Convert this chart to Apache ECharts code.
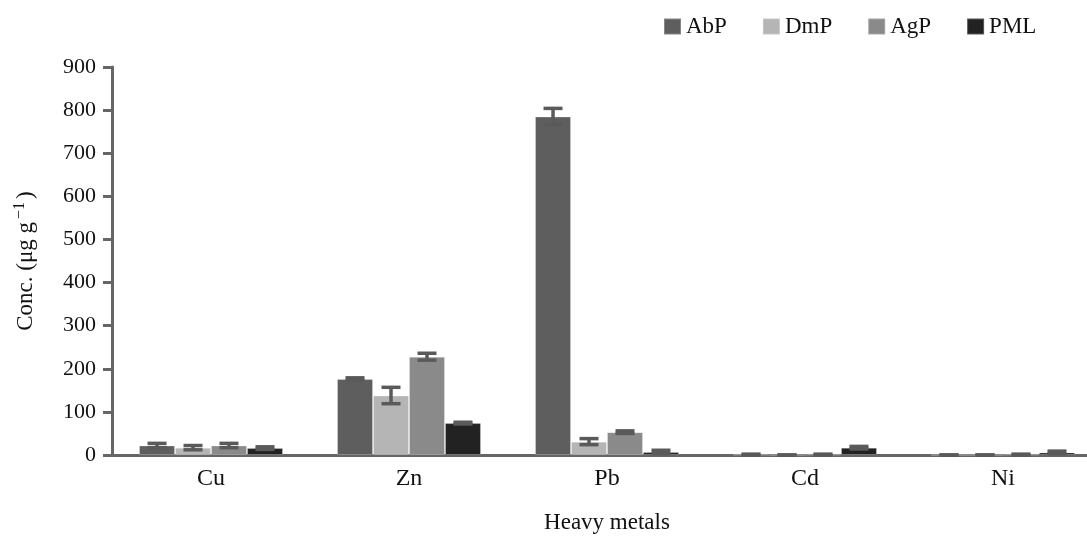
<!DOCTYPE html>
<html>
<head>
<meta charset="utf-8">
<script src="https://cdn.jsdelivr.net/npm/echarts@6/dist/echarts.min.js"></script>
<style>
  html, body { margin: 0; padding: 0; background: #fff; overflow: hidden; }
  #chart { width: 1102px; height: 539px; }
</style>
</head>
<body>
<div id="chart"></div>
<script>
// Heavy metal concentrations by sample type (mean ± error)
const categories = ['Cu', 'Zn', 'Pb', 'Cd', 'Ni'];
const seriesNames = ['AbP', 'DmP', 'AgP', 'PML'];

const abp = [22, 176, 785, 1, 0];
const dmp = [17, 138, 31, 0, 0];
const agp = [22, 228, 53, 1, 1];
const pml = [16, 74, 7, 17, 6];

const abpErr = [5, 3, 19, 1, 0];
const dmpErr = [5, 19, 7, 0, 0];
const agpErr = [5, 8, 3, 1, 1];
const pmlErr = [3, 2, 4, 3, 3];

const yTicks = [0, 100, 200, 300, 400, 500, 600, 700, 800, 900];

const colors = ['#5e5e5e', '#b5b5b5', '#8a8a8a', '#222222'];
const values = [abp, dmp, agp, pml];
const errs = [abpErr, dmpErr, agpErr, pmlErr];

const CAT_GAP = 0.273;
const FONT = '"Liberation Serif", "DejaVu Serif", serif';

const chart = echarts.init(document.getElementById('chart'));

const barSeries = seriesNames.map((name, i) => ({
  name: name,
  type: 'bar',
  data: values[i],
  barGap: '0%',
  barCategoryGap: (CAT_GAP * 100) + '%',
  itemStyle: { color: colors[i], borderColor: 'rgba(255,255,255,0.25)', borderWidth: 1 },
  emphasis: { disabled: true },
  z: 2
}));

function makeErrorSeries(i) {
  return {
    name: seriesNames[i] + ' error',
    type: 'custom',
    silent: true,
    z: 3,
    data: values[i].map((v, k) => [k, v, errs[i][k]]),
    renderItem: function (params, api) {
      const k = api.value(0);
      const v = api.value(1);
      const e = api.value(2);
      const band = api.size([1, 0])[0];
      const bw = band * (1 - CAT_GAP) / 4;
      const center = api.coord([k, 0])[0] + (i - 1.5) * bw;
      const top = api.coord([k, v + e])[1];
      const bottom = api.coord([k, Math.max(v - e, 0)])[1];
      const half = 9.5;
      const style = { stroke: '#5a5a5a', lineWidth: 3.5 };
      return {
        type: 'group',
        children: [
          { type: 'line', shape: { x1: center, y1: top, x2: center, y2: bottom }, style: style },
          { type: 'line', shape: { x1: center - half, y1: top, x2: center + half, y2: top }, style: style },
          { type: 'line', shape: { x1: center - half, y1: bottom, x2: center + half, y2: bottom }, style: style }
        ]
      };
    }
  };
}

const option = {
  animation: false,
  backgroundColor: '#ffffff',
  textStyle: { fontFamily: FONT },
  legend: {
    data: seriesNames,
    left: 658,
    top: 10,
    itemWidth: 17,
    itemHeight: 16,
    itemGap: 35,
    icon: 'rect',
    textStyle: { fontFamily: FONT, fontSize: 23, color: '#111' }
  },
  grid: { left: 112, top: 67, bottom: 84, right: 0, containLabel: false },
  xAxis: {
    type: 'category',
    data: categories,
    name: 'Heavy metals',
    nameLocation: 'middle',
    nameGap: 56,
    nameTextStyle: { fontFamily: FONT, fontSize: 23, color: '#111' },
    axisLine: { lineStyle: { color: '#666', width: 3 } },
    axisTick: { show: false },
    axisLabel: { fontFamily: FONT, fontSize: 24, color: '#111', margin: 12 }
  },
  yAxis: {
    type: 'value',
    min: yTicks[0],
    max: yTicks[yTicks.length - 1],
    interval: 100,
    name: 'Conc. (μg g{gap| }{sup|−1}{gap| })',
    nameLocation: 'middle',
    nameGap: 72,
    nameRotate: 90,
    nameTextStyle: {
      fontFamily: FONT, fontSize: 23, color: '#111',
      rich: {
        sup: { fontFamily: FONT, fontSize: 16, color: '#111', verticalAlign: 'top', padding: [0, 0, 12, 0] },
        gap: { fontFamily: FONT, fontSize: 12 }
      }
    },
    axisLine: { show: true, lineStyle: { color: '#666', width: 3 } },
    axisTick: { show: true, length: 9, lineStyle: { color: '#666', width: 3 } },
    splitLine: { show: false },
    axisLabel: { fontFamily: FONT, fontSize: 22, color: '#111', margin: 16 }
  },
  series: barSeries.concat(seriesNames.map((_, i) => makeErrorSeries(i)))
};

chart.setOption(option);
</script>
</body>
</html>
